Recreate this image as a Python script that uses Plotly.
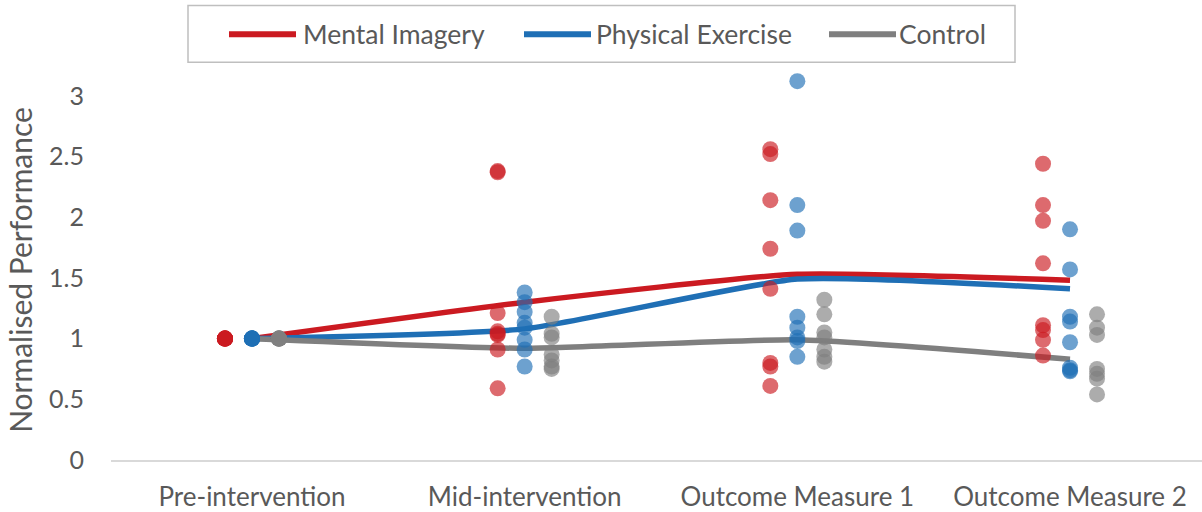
import plotly.graph_objects as go

categories = ["Pre-intervention", "Mid-intervention", "Outcome Measure 1", "Outcome Measure 2"]
series_names = ["Mental Imagery", "Physical Exercise", "Control"]

mean_mental = [1.0, 1.30, 1.53, 1.48]
mean_physical = [1.0, 1.08, 1.49, 1.41]
mean_control = [1.0, 0.92, 0.99, 0.83]

mental_pre = [1.0, 1.0, 1.0, 1.0, 1.0, 1.0, 1.0, 1.0]
mental_mid = [2.38, 2.37, 1.21, 1.06, 1.04, 1.03, 0.91, 0.59]
mental_om1 = [2.56, 2.52, 2.14, 1.74, 1.41, 0.80, 0.77, 0.61]
mental_om2 = [2.44, 2.10, 1.97, 1.62, 1.11, 1.07, 0.99, 0.86]

physical_pre = [1.0, 1.0, 1.0, 1.0, 1.0, 1.0, 1.0, 1.0]
physical_mid = [1.38, 1.30, 1.22, 1.13, 1.09, 0.99, 0.91, 0.77]
physical_om1 = [3.12, 2.10, 1.89, 1.18, 1.09, 1.01, 0.98, 0.85]
physical_om2 = [1.90, 1.57, 1.18, 1.14, 0.97, 0.76, 0.74, 0.73]

control_pre = [1.0, 1.0, 1.0, 1.0, 1.0, 1.0, 1.0]
control_mid = [1.18, 1.04, 1.01, 0.87, 0.82, 0.77, 0.75]
control_om1 = [1.32, 1.20, 1.05, 1.01, 0.91, 0.85, 0.81]
control_om2 = [1.20, 1.09, 1.03, 0.75, 0.71, 0.67, 0.54]

y_ticks = [0, 0.5, 1, 1.5, 2, 2.5, 3]

colors = ["#CB1A21", "#1F6FB5", "#7F7F7F"]
offsets = [-0.099, 0.0, 0.099]
means = [mean_mental, mean_physical, mean_control]
points = [
    [mental_pre, mental_mid, mental_om1, mental_om2],
    [physical_pre, physical_mid, physical_om1, physical_om2],
    [control_pre, control_mid, control_om1, control_om2],
]

FONT = "Lato, 'Open Sans', sans-serif"
TXT = "#595959"

fig = go.Figure()
idx = list(range(len(categories)))

for name, col, m in zip(series_names, colors, means):
    fig.add_trace(go.Scatter(
        x=idx, y=m, mode="lines", name=name,
        line=dict(color=col, width=5.5, shape="spline", smoothing=0.5),
        showlegend=False, hoverinfo="skip", cliponaxis=False))

for name, col, off, groups in zip(series_names, colors, offsets, points):
    xs, ys = [], []
    for i, vals in enumerate(groups):
        for v in vals:
            xs.append(i + off)
            ys.append(v)
    fig.add_trace(go.Scatter(
        x=xs, y=ys, mode="markers", name=name,
        marker=dict(color=col, size=16, opacity=0.65, line=dict(width=0)),
        showlegend=False, cliponaxis=False))

Y_MAX = 3.13
# manual legend (paper coordinates)
L, R, B = 111, 0, 49
T = round(512 - B - Y_MAX * 122.33)
W, H = 1202 - L - R, 512 - T - B
px = lambda x: (x - L) / W
py = lambda y: (512 - B - y) / H

fig.add_shape(type="rect", xref="paper", yref="paper",
              x0=px(188), x1=px(1015), y0=py(62), y1=py(5),
              line=dict(color="#BFBFBF", width=1.5), fillcolor="white", layer="below")
leg = [(229, 296, 301), (524, 591, 594), (829, 896, 897)]
for (a, b, t), name, col in zip(leg, series_names, colors):
    fig.add_shape(type="line", xref="paper", yref="paper",
                  x0=px(a), x1=px(b), y0=py(34), y1=py(34),
                  line=dict(color=col, width=6))
    fig.add_annotation(xref="paper", yref="paper", x=px(t), y=py(34),
                       text=name, showarrow=False, xanchor="left", yanchor="middle",
                       font=dict(family=FONT, size=26.5, color=TXT))

fig.update_layout(
    width=1202, height=512,
    margin=dict(l=L, r=R, t=T, b=B),
    paper_bgcolor="white", plot_bgcolor="white",
    showlegend=False,
    xaxis=dict(range=[-0.517, 3.484], tickvals=idx, ticktext=categories,
               showline=True, linecolor="#D9D9D9", linewidth=1.5,
               showgrid=False, zeroline=False, ticks="",
               ticklabelstandoff=13,
               tickfont=dict(family=FONT, size=26, color=TXT)),
    yaxis=dict(range=[0, Y_MAX], tickvals=y_ticks,
               ticktext=[f"{v:g}" for v in y_ticks],
               showline=False, showgrid=False, zeroline=False, ticks="",
               ticklabelstandoff=26,
               tickfont=dict(family=FONT, size=25, color=TXT),
               title=dict(text="Normalised Performance", standoff=7,
                          font=dict(family=FONT, size=30, color=TXT))),
)

fig.write_html("out.html", config={"displayModeBar": False},
               post_script="document.body.style.margin='0';document.body.style.overflow='hidden';")
